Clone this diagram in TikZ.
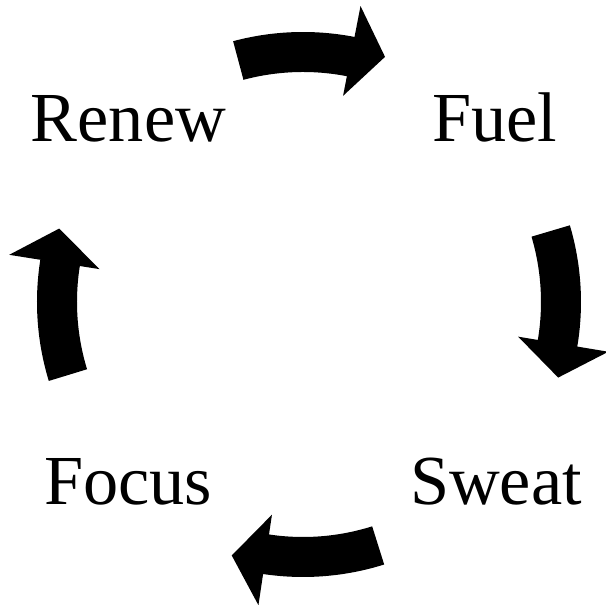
\documentclass[tikz,border=0pt]{standalone}
\usepackage{fontspec}
\setmainfont{Liberation Serif}
\usepackage{tikz}
\usetikzlibrary{positioning, calc}
\definecolor{mydark}{RGB}{0,0,0}
\tikzset{
  word/.style={anchor=base, inner sep=0pt, font=\fontsize{40}{48}\selectfont, text=mydark},
  bentarrow/.style={fill=mydark, draw=none}
}

\begin{document}
\begin{tikzpicture}
  \useasboundingbox (-6.06,-6.06) rectangle (6.06,6.04);

  % Words of the cycle
  \node[word] (renew) at (-3.49,3.2) {Renew};
  \node[word] (fuel) at (3.84,3.2) {Fuel};
  \node[word] (sweat) at (3.86,-4.06) {Sweat};
  \node[word] (focus) at (-3.5,-4.06) {Focus};

  % Curved block arrows, running clockwise
  \foreach \a/\dx/\dy in {90/0/0, 1.5/0.16/0, -87.5/0/-0.1, 182/0.08/0} {
    \begin{scope}[shift={(\dx,\dy)}]
      \fill[bentarrow] (\a+15:4.6) arc[start angle=\a+15, end angle=\a-11, radius=4.6]
        -- (\a-11:4.2) -- (\a-18.5:5.17) -- (\a-11:6.03) -- (\a-11:5.4)
        arc[start angle=\a-11, end angle=\a+15, radius=5.4] -- cycle;
    \end{scope}
  }
\end{tikzpicture}
\end{document}
